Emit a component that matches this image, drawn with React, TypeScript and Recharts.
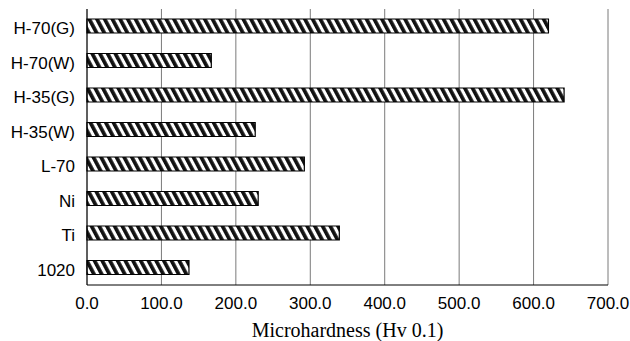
import { BarChart, Bar, XAxis, YAxis, CartesianGrid } from 'recharts'

const categories = ['H-70(G)', 'H-70(W)', 'H-35(G)', 'H-35(W)', 'L-70', 'Ni', 'Ti', '1020']
const hardness = [620, 167, 641, 226, 292, 230, 339, 137]
const xTicks = [0, 100, 200, 300, 400, 500, 600, 700]

const data = categories.map((name, i) => ({ name, value: hardness[i] }))
// tick marks sit on the band boundaries, not on the label centres
const boundaries = categories.slice(1).map((_, i) => i + 1)

const CategoryTick = (props: any) => {
  const { x, y, payload } = props
  return (
    <text
      x={x}
      y={y}
      dy={8}
      textAnchor="end"
      fontFamily="'Liberation Sans', Arial, sans-serif"
      fontSize={17}
      fill="#000"
    >
      {payload.value}
    </text>
  )
}

export default function App() {
  return (
    <div style={{ position: 'absolute', left: 0, top: 0, background: '#fff' }}>
      <BarChart
        width={630}
        height={341}
        data={data}
        layout="vertical"
        margin={{ top: 9, right: 22, left: 7, bottom: 0 }}
      >
        <defs>
          <pattern
            id="hatch"
            patternUnits="userSpaceOnUse"
            width={6.8}
            height={6.8}
            patternTransform="rotate(-28)"
          >
            <rect x={0} y={0} width={6.8} height={6.8} fill="#fff" />
            <rect x={0} y={0} width={3.7} height={6.8} fill="#111" />
          </pattern>
        </defs>
        <CartesianGrid horizontal={false} stroke="#7a7a7a" />
        <XAxis
          type="number"
          domain={[0, 700]}
          ticks={xTicks}
          tickFormatter={(v: number) => v.toFixed(1)}
          tickLine={false}
          tickMargin={6}
          axisLine={{ stroke: '#000' }}
          tick={{ fontFamily: "'Liberation Sans', Arial, sans-serif", fontSize: 17, fill: '#000' }}
          height={56}
          label={{
            value: 'Microhardness (Hv 0.1)',
            position: 'insideBottom',
            offset: 4,
            fontFamily: "'Liberation Serif', 'Times New Roman', serif",
            fontSize: 20,
            fill: '#000',
          }}
        />
        <XAxis
          xAxisId="top"
          orientation="top"
          type="number"
          domain={[0, 700]}
          height={0}
          tick={false}
          tickLine={false}
          axisLine={{ stroke: '#7a7a7a' }}
        />
        <YAxis
          type="category"
          dataKey="name"
          width={80}
          tickLine={false}
          tickMargin={6}
          axisLine={{ stroke: '#000' }}
          tick={<CategoryTick />}
        />
        <YAxis
          yAxisId="bounds"
          type="number"
          domain={[0, categories.length]}
          ticks={boundaries}
          width={0}
          mirror
          tickFormatter={() => ''}
          tick={{ fontSize: 0 }}
          tickSize={4}
          tickLine={{ stroke: '#000', strokeWidth: 1.2 }}
          axisLine={false}
          allowDataOverflow
        />
        <Bar
          dataKey="value"
          fill="url(#hatch)"
          stroke="#000"
          strokeWidth={1.2}
          barSize={14}
          isAnimationActive={false}
        />
      </BarChart>
    </div>
  )
}
